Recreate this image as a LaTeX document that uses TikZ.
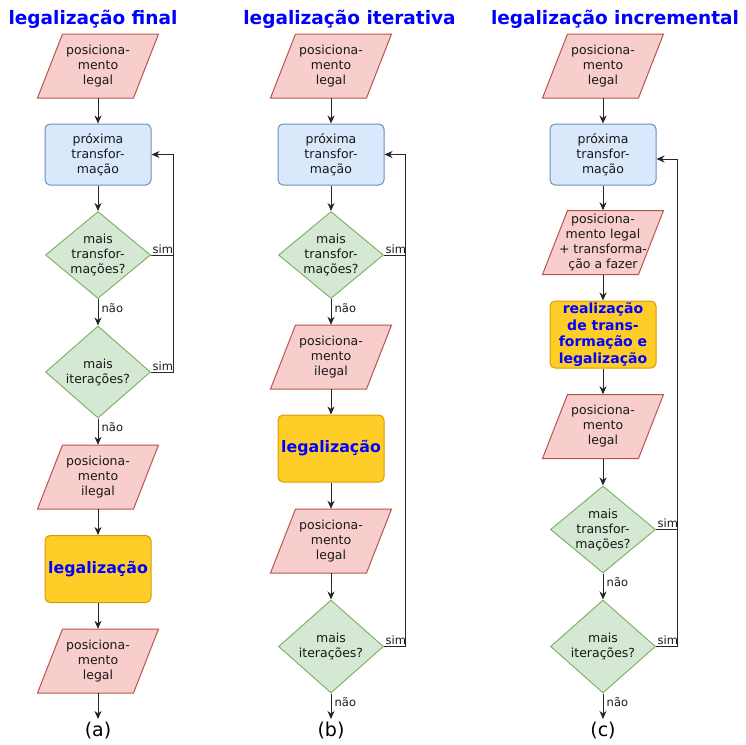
\documentclass[tikz,border=0pt]{standalone}
\usepackage{fontspec}
\setmainfont{DejaVu Sans}
\usetikzlibrary{shapes.geometric,arrows.meta,calc}

\definecolor{parafill}{HTML}{F8CECC}
\definecolor{paraline}{HTML}{B85450}
\definecolor{boxfill}{HTML}{DAE8FC}
\definecolor{boxline}{HTML}{6C8EBF}
\definecolor{decfill}{HTML}{D5E8D4}
\definecolor{decline}{HTML}{82B366}
\definecolor{legfill}{HTML}{FFCD28}
\definecolor{legline}{HTML}{D79B00}
\definecolor{titleblue}{HTML}{0000FF}

% data (input/output) shape: parallelogram drawn behind a named text node
\newcommand\ioshape[4]{%
  \path[paraframe] (#2-60.5,#3+32) -- (#2+35.5,#3+32) -- (#2+60.5,#3-32) -- (#2-35.5,#3-32) -- cycle;
  \node[parabody] (#1) at (#2,#3) {#4};}

\begin{document}
\begin{tikzpicture}[x=1pt,y=-1pt,
  txt/.style={font=\fontsize{12.5}{15}\selectfont, align=center, text=black!90},
  procbox/.style={rectangle, rounded corners=5pt, draw=boxline, fill=boxfill, line width=1pt,
    minimum width=106pt, minimum height=61pt, inner sep=0pt, txt},
  legbox/.style={rectangle, rounded corners=5pt, draw=legline, fill=legfill, line width=1pt,
    minimum width=106pt, minimum height=67pt, inner sep=0pt, align=center, text=titleblue,
    font=\bfseries\fontsize{15.8}{18}\selectfont},
  decision/.style={diamond, draw=decline, fill=decfill, line width=1pt,
    minimum width=105pt, minimum height=#1, inner sep=0pt},
  decision/.default=87pt,
  paraframe/.style={draw=paraline, fill=parafill, line width=1pt},
  parabody/.style={rectangle, minimum width=96pt, minimum height=64pt, inner sep=0pt, txt},
  flow/.style={-{Stealth[length=8pt,width=7pt,inset=2.5pt]}, line width=1pt, draw=black!85},
  link/.style={line width=1pt, draw=black!85},
  answer/.style={font=\fontsize{11.5}{13}\selectfont, inner sep=1.5pt, text=black!90},
  heading/.style={font=\bfseries\fontsize{18.5}{22}\selectfont, text=titleblue, anchor=base},
  caption/.style={font=\fontsize{19}{22}\selectfont, inner sep=3pt, anchor=north}
]
\useasboundingbox (0,0) rectangle (746,744);

% ---------- (a) final legalisation ----------
\node[heading] (ta) at (93,24) {legalização final};
\ioshape{a1}{98}{66}{posiciona-\\mento\\legal}
\node[procbox] (a2) at (98,154.5) {próxima\\transfor-\\mação};
\node[decision] (a3) at (98,255) {};
\node[txt] (a3t) at (a3) {mais\\transfor-\\mações?};
\node[decision=92pt] (a4) at (98,372) {};
\node[txt] (a4t) at (a4) {mais\\iterações?};
\ioshape{a5}{98}{477}{posiciona-\\mento\\ilegal}
\node[legbox] (a6) at (98,569) {legalização};
\ioshape{a7}{98}{661}{posiciona-\\mento\\legal}
\node[caption] (a8) at (98,719) {(a)};

\draw[flow] (a1.south) -- (a2.north);
\draw[flow] (a2.south) -- (a3.north);
\draw[flow] (a3.south) -- (a4.north);
\draw[flow] (a4.south) -- (a5.north);
\draw[flow] (a5.south) -- (a6.north);
\draw[flow] (a6.south) -- (a7.north);
\draw[flow] (a7.south) -- (a8.north);
\draw[flow] (a3.east) -- ++(22.5,0) coordinate (ja) |- (a2.east);
\draw[link] (a4.east) -| (ja);
\node[answer, anchor=south west] (a3s) at (a3.east) {sim};
\node[answer, anchor=south west] (a4s) at (a4.east) {sim};
\node[answer, anchor=west] (a3n) at ($(a3.south)+(2,9)$) {não};
\node[answer, anchor=west] (a4n) at ($(a4.south)+(2,9)$) {não};

% ---------- (b) iterative legalisation ----------
\node[heading] (tb) at (349.5,24) {legalização iterativa};
\ioshape{b1}{331}{66}{posiciona-\\mento\\legal}
\node[procbox] (b2) at (331,154.5) {próxima\\transfor-\\mação};
\node[decision] (b3) at (331,255) {};
\node[txt] (b3t) at (b3) {mais\\transfor-\\mações?};
\ioshape{b4}{331}{357}{posiciona-\\mento\\ilegal}
\node[legbox] (b5) at (331,448.5) {legalização};
\ioshape{b6}{331}{541}{posiciona-\\mento\\legal}
\node[decision=93pt] (b7) at (331,646.5) {};
\node[txt] (b7t) at (b7) {mais\\iterações?};
\node[caption] (b8) at (331,719) {(b)};

\draw[flow] (b1.south) -- (b2.north);
\draw[flow] (b2.south) -- (b3.north);
\draw[flow] (b3.south) -- (b4.north);
\draw[flow] (b4.south) -- (b5.north);
\draw[flow] (b5.south) -- (b6.north);
\draw[flow] (b6.south) -- (b7.north);
\draw[flow] (b7.south) -- (b8.north);
\draw[flow] (b3.east) -- ++(21.5,0) coordinate (jb) |- (b2.east);
\draw[link] (b7.east) -| (jb);
\node[answer, anchor=south west] (b3s) at (b3.east) {sim};
\node[answer, anchor=south west] (b7s) at (b7.east) {sim};
\node[answer, anchor=west] (b3n) at ($(b3.south)+(2,9)$) {não};
\node[answer, anchor=west] (b7n) at ($(b7.south)+(2,9)$) {não};

% ---------- (c) incremental legalisation ----------
\node[heading] (tc) at (615,24) {legalização incremental};
\ioshape{c1}{603}{66}{posiciona-\\mento\\legal}
\node[procbox] (c2) at (603,154.5) {próxima\\transfor-\\mação};
\ioshape{c3}{603}{242.5}{posiciona-\\mento legal\\+ transforma-\\ção a fazer}
\node[legbox, font=\bfseries\fontsize{14}{16.5}\selectfont] (c4) at (603,334.5)
  {realização\\de trans-\\formação e\\legalização};
\ioshape{c5}{603}{426.5}{posiciona-\\mento\\legal}
\node[decision] (c6) at (603,529.5) {};
\node[txt] (c6t) at (c6) {mais\\transfor-\\mações?};
\node[decision=93pt] (c7) at (603,646.5) {};
\node[txt] (c7t) at (c7) {mais\\iterações?};
\node[caption] (c8) at (603,719) {(c)};

\draw[flow] (c1.south) -- (c2.north);
\draw[flow] (c2.south) -- (c3.north);
\draw[flow] (c3.south) -- (c4.north);
\draw[flow] (c4.south) -- (c5.north);
\draw[flow] (c5.south) -- (c6.north);
\draw[flow] (c6.south) -- (c7.north);
\draw[flow] (c7.south) -- (c8.north);
\draw[flow] (c6.east) -- ++(21.5,0) coordinate (jc) |- ([yshift=-4.5pt]c2.east);
\draw[link] (c7.east) -| (jc);
\node[answer, anchor=south west] (c6s) at (c6.east) {sim};
\node[answer, anchor=south west] (c7s) at (c7.east) {sim};
\node[answer, anchor=west] (c6n) at ($(c6.south)+(2,9)$) {não};
\node[answer, anchor=west] (c7n) at ($(c7.south)+(2,9)$) {não};
\end{tikzpicture}
\end{document}
